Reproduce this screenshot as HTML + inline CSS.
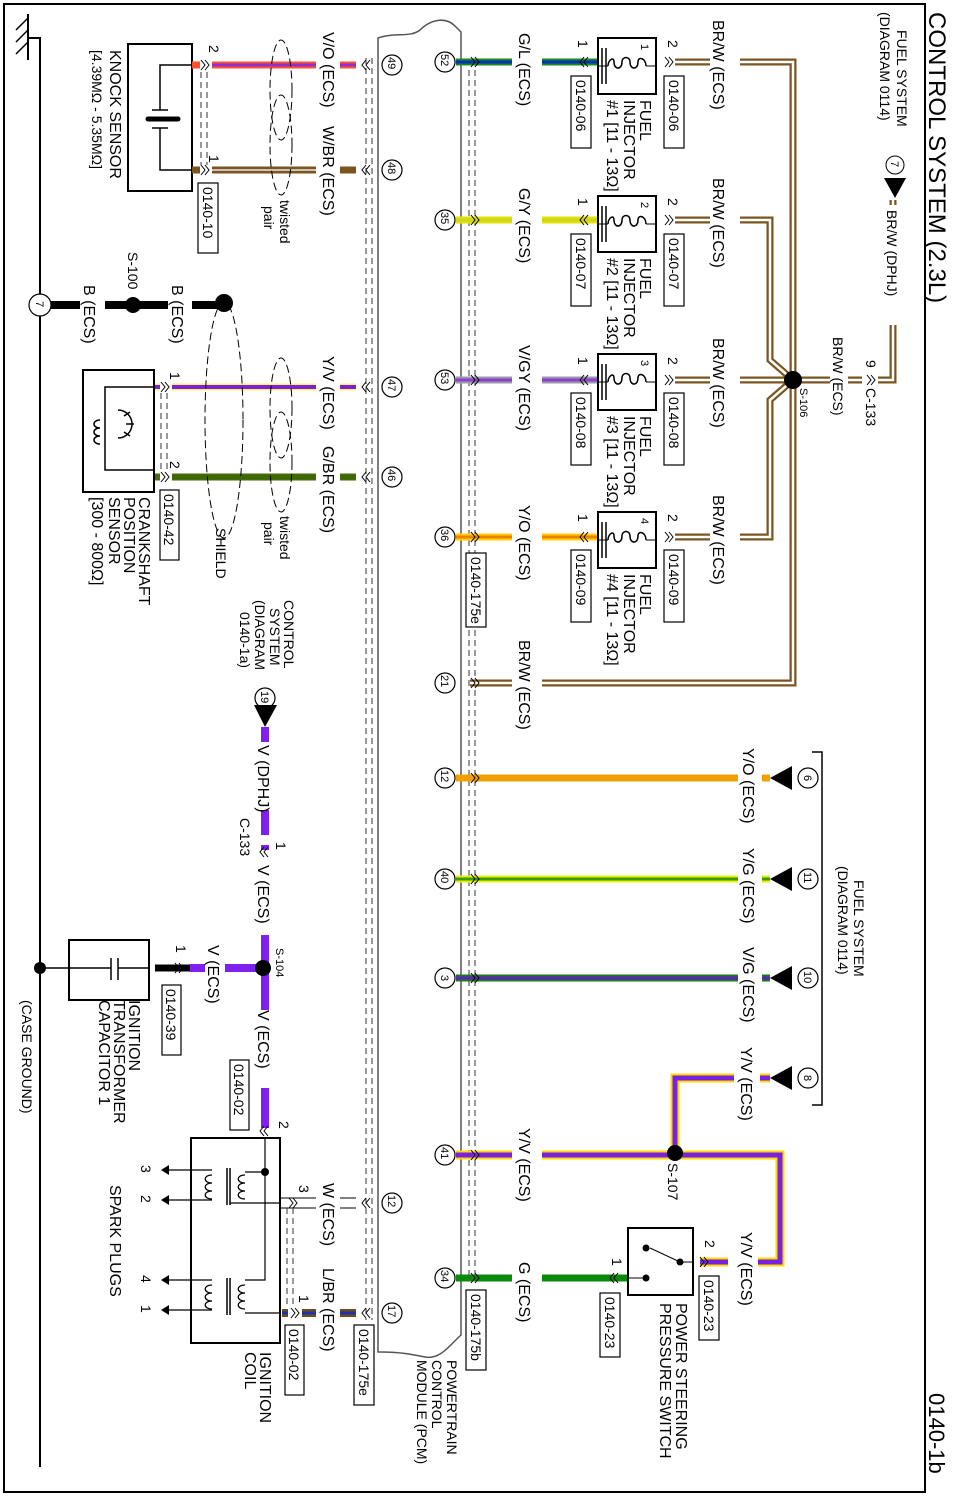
<!DOCTYPE html>
<html><head><meta charset="utf-8"><style>
html,body{margin:0;padding:0;background:#fff}
svg{display:block}
text{font-family:"Liberation Sans",sans-serif;fill:#000}
.s{font-size:14px}.m{font-size:16px}.t{font-size:11px}
</style></head><body>
<svg width="958" height="1498" viewBox="0 0 958 1498" xmlns="http://www.w3.org/2000/svg">
<defs>
<g id="chR"><path d="M-3,-5 L1,0 L-3,5 M1,-5 L5,0 L1,5" fill="none" stroke="#000" stroke-width="1"/></g>
<g id="chL"><path d="M3,-5 L-1,0 L3,5 M-1,-5 L-5,0 L-1,5" fill="none" stroke="#000" stroke-width="1"/></g>
<g id="inj"><rect x="0" y="0" width="58" height="56" fill="#fff" stroke="#000" stroke-width="2"/>
<path d="M58,28 L48,28 M10,28 L0,28" stroke="#000" fill="none"/>
<path d="M48,28 C48,20 40,18 40,24 C40,32 32,32 32,24 C32,18 24,18 24,24 C24,32 16,32 16,24 C16,18 10,22 10,28" fill="none" stroke="#000" stroke-width="1.5"/>
<path d="M8,10 V46 M4,10 V46" stroke="#000" stroke-width="1.5"/></g>
</defs>
<rect x="4" y="4" width="921" height="1488" fill="none" stroke="#000" stroke-width="2"/>
<text class="m" style="font-size:24px" transform="translate(929 12) rotate(90)">CONTROL SYSTEM (2.3L)</text>
<text class="m" style="font-size:22px" transform="translate(929 1393) rotate(90)">0140-1b</text>
<path d="M28,14 V60 M28,38 H40 V1467" stroke="#000" stroke-width="2" fill="none"/>
<path d="M16,30 L28,18 M16,42 L28,30 M16,54 L28,42" stroke="#000" stroke-width="1.5"/>
<text class="s" transform="translate(22 1000) rotate(90)">(CASE GROUND)</text>
<circle cx="40" cy="968" r="6"/>
<path d="M378,38 C395,32 410,38 420,30 C430,20 445,16 455,26 L461,32 V1335 C450,1345 440,1360 425,1357 C410,1354 400,1352 378,1352 Z" fill="none" stroke="#555" stroke-width="1.5"/>
<path d="M366,58 V1320 M372,58 V1320" stroke="#333" stroke-dasharray="6,4"/>
<path d="M469,70 V1275 M475,70 V1275" stroke="#333" stroke-dasharray="6,4"/>
<text class="s" transform="translate(447 1360) rotate(90)">POWERTRAIN</text>
<text class="s" transform="translate(432 1360) rotate(90)">CONTROL</text>
<text class="s" transform="translate(417 1360) rotate(90)">MODULE (PCM)</text>
<g fill="#fff" stroke="#000" stroke-width="1.2">
<circle cx="445" cy="62" r="10"/><circle cx="445" cy="220" r="10"/><circle cx="445" cy="380" r="10"/><circle cx="445" cy="537" r="10"/><circle cx="445" cy="683" r="10"/><circle cx="445" cy="778" r="10"/><circle cx="445" cy="879" r="10"/><circle cx="445" cy="978" r="10"/><circle cx="445" cy="1155" r="10"/><circle cx="445" cy="1278" r="10"/>
<circle cx="392" cy="65" r="10"/><circle cx="392" cy="170" r="10"/><circle cx="392" cy="387" r="10"/><circle cx="392" cy="477" r="10"/><circle cx="392" cy="1203" r="10"/><circle cx="392" cy="1313" r="10"/>
</g>
<g class="t">
<text transform="translate(441 54) rotate(90)">52</text><text transform="translate(441 212) rotate(90)">35</text><text transform="translate(441 372) rotate(90)">53</text><text transform="translate(441 529) rotate(90)">36</text><text transform="translate(441 675) rotate(90)">21</text><text transform="translate(441 770) rotate(90)">12</text><text transform="translate(441 871) rotate(90)">40</text><text transform="translate(441 975) rotate(90)">3</text><text transform="translate(441 1147) rotate(90)">41</text><text transform="translate(441 1270) rotate(90)">34</text>
<text transform="translate(388 57) rotate(90)">49</text><text transform="translate(388 162) rotate(90)">48</text><text transform="translate(388 379) rotate(90)">47</text><text transform="translate(388 469) rotate(90)">46</text><text transform="translate(388 1195) rotate(90)">12</text><text transform="translate(388 1305) rotate(90)">17</text>
</g>
<g stroke-width="7">
<path d="M456,62 H512 M542,62 H597" stroke="#1a8a1a"/>
<path d="M456,220 H512 M542,220 H597" stroke="#e8e000"/>
<path d="M456,380 H512 M542,380 H597" stroke="#9a9aa8"/>
<path d="M456,537 H512 M542,537 H597" stroke="#ffd000"/>
<path d="M456,778 H738 M762,778 H770" stroke="#f0a000"/>
<path d="M456,879 H738 M762,879 H770" stroke="#e8f000"/>
<path d="M456,978 H738 M762,978 H770" stroke="#1a7a1a"/>
<path d="M456,1278 H512 M542,1278 H628" stroke="#0a8a0a"/>
</g>
<g stroke-width="3">
<path d="M456,62 H512 M542,62 H597" stroke="#0030c0"/>
<path d="M456,220 H512 M542,220 H597" stroke="#c8d820"/>
<path d="M456,380 H512 M542,380 H597" stroke="#9040d0"/>
<path d="M456,537 H512 M542,537 H597" stroke="#f08000"/>
<path d="M456,879 H738 M762,879 H770" stroke="#3a9a10"/>
<path d="M456,978 H738 M762,978 H770" stroke="#6020c0"/>
</g>
<path d="M456,1155 H512 M542,1155 H780 V1262 H758 M728,1262 H700 M675,1155 V1078 H734 M760,1078 H770" fill="none" stroke="#ffd800" stroke-width="9"/>
<path d="M456,1155 H512 M542,1155 H780 V1262 H758 M728,1262 H700 M675,1155 V1078 H734 M760,1078 H770" fill="none" stroke="#7a20e0" stroke-width="5"/>
<circle cx="675" cy="1153" r="8"/>
<text class="s" transform="translate(668 1163) rotate(90)">S-107</text>
<g fill="none">
<path d="M675,62 H710 M740,62 H793 V683 H542 M512,683 H470 M675,220 H710 M740,220 H770 V360 L793,380 M675,380 H710 M740,380 H793 M675,537 H710 M740,537 H770 V400 L793,380 M793,380 H830 M848,380 H862 M878,380 H893 V325 M893,205 V200" stroke="#7a5520" stroke-width="7"/>
<path d="M675,62 H710 M740,62 H793 V683 H542 M512,683 H470 M675,220 H710 M740,220 H770 V360 L793,380 M675,380 H710 M740,380 H793 M675,537 H710 M740,537 H770 V400 L793,380 M793,380 H830 M848,380 H862 M878,380 H893 V325 M893,205 V200" stroke="#fff" stroke-width="2.5"/>
</g>
<circle cx="793" cy="380" r="9"/>
<text class="t" transform="translate(800 388) rotate(90)">S-106</text>
<text class="s" transform="translate(866 360) rotate(90)">9</text>
<use href="#chR" x="870" y="380"/>
<text class="s" transform="translate(866 388) rotate(90)">C-133</text>
<text class="s" transform="translate(833 337) rotate(90)">BR/W (ECS)</text>
<text class="s" transform="translate(887 210) rotate(90)">BR/W (DPHJ)</text>
<path d="M884,178 L906,178 L895,198 Z"/>
<circle cx="895" cy="165" r="9" fill="#fff" stroke="#000"/>
<text class="t" transform="translate(891 161) rotate(90)">7</text>
<text class="s" transform="translate(897 30) rotate(90)">FUEL SYSTEM</text>
<text class="s" transform="translate(880 12) rotate(90)">(DIAGRAM 0114)</text>
<text class="m" transform="translate(519 640) rotate(90)">BR/W (ECS)</text>
<use href="#inj" x="598" y="38"/><use href="#inj" x="598" y="196"/><use href="#inj" x="598" y="354"/><use href="#inj" x="598" y="512"/>
<g class="t"><text transform="translate(641 44) rotate(90)">1</text><text transform="translate(641 202) rotate(90)">2</text><text transform="translate(641 360) rotate(90)">3</text><text transform="translate(641 518) rotate(90)">4</text></g>
<g>
<use href="#chR" x="668" y="62"/><use href="#chL" x="585" y="62"/>
<use href="#chR" x="668" y="220"/><use href="#chL" x="585" y="220"/>
<use href="#chR" x="668" y="380"/><use href="#chL" x="585" y="380"/>
<use href="#chR" x="668" y="537"/><use href="#chL" x="585" y="537"/>
</g>
<g class="s">
<text transform="translate(668 40) rotate(90)">2</text><text transform="translate(578 40) rotate(90)">1</text>
<text transform="translate(668 198) rotate(90)">2</text><text transform="translate(578 198) rotate(90)">1</text>
<text transform="translate(668 357) rotate(90)">2</text><text transform="translate(578 357) rotate(90)">1</text>
<text transform="translate(668 514) rotate(90)">2</text><text transform="translate(578 514) rotate(90)">1</text>
</g>
<g fill="#fff" stroke="#000" stroke-width="1.2">
<rect x="664" y="76" width="20" height="72"/><rect x="571" y="76" width="20" height="72"/>
<rect x="664" y="234" width="20" height="72"/><rect x="571" y="234" width="20" height="72"/>
<rect x="664" y="393" width="20" height="72"/><rect x="571" y="393" width="20" height="72"/>
<rect x="664" y="550" width="20" height="72"/><rect x="571" y="550" width="20" height="72"/>
</g>
<g class="s">
<text transform="translate(669 80) rotate(90)">0140-06</text><text transform="translate(576 80) rotate(90)">0140-06</text>
<text transform="translate(669 238) rotate(90)">0140-07</text><text transform="translate(576 238) rotate(90)">0140-07</text>
<text transform="translate(669 397) rotate(90)">0140-08</text><text transform="translate(576 397) rotate(90)">0140-08</text>
<text transform="translate(669 554) rotate(90)">0140-09</text><text transform="translate(576 554) rotate(90)">0140-09</text>
</g>
<g class="m">
<text transform="translate(640 100) rotate(90)">FUEL</text><text transform="translate(624 100) rotate(90)">INJECTOR</text><text transform="translate(607 100) rotate(90)">#1 [11 - 13Ω]</text>
<text transform="translate(640 258) rotate(90)">FUEL</text><text transform="translate(624 258) rotate(90)">INJECTOR</text><text transform="translate(607 258) rotate(90)">#2 [11 - 13Ω]</text>
<text transform="translate(640 416) rotate(90)">FUEL</text><text transform="translate(624 416) rotate(90)">INJECTOR</text><text transform="translate(607 416) rotate(90)">#3 [11 - 13Ω]</text>
<text transform="translate(640 574) rotate(90)">FUEL</text><text transform="translate(624 574) rotate(90)">INJECTOR</text><text transform="translate(607 574) rotate(90)">#4 [11 - 13Ω]</text>
</g>
<g class="m">
<text transform="translate(713 20) rotate(90)">BR/W (ECS)</text><text transform="translate(713 178) rotate(90)">BR/W (ECS)</text><text transform="translate(713 338) rotate(90)">BR/W (ECS)</text><text transform="translate(713 495) rotate(90)">BR/W (ECS)</text>
<text transform="translate(519 33) rotate(90)">G/L (ECS)</text><text transform="translate(519 188) rotate(90)">G/Y (ECS)</text><text transform="translate(519 345) rotate(90)">V/GY (ECS)</text><text transform="translate(519 505) rotate(90)">Y/O (ECS)</text>
<text transform="translate(519 1128) rotate(90)">Y/V (ECS)</text><text transform="translate(519 1262) rotate(90)">G (ECS)</text>
<text transform="translate(743 748) rotate(90)">Y/O (ECS)</text><text transform="translate(743 848) rotate(90)">Y/G (ECS)</text><text transform="translate(743 947) rotate(90)">V/G (ECS)</text><text transform="translate(741 1047) rotate(90)">Y/V (ECS)</text>
<text transform="translate(741 1232) rotate(90)">Y/V (ECS)</text>
</g>
<g><use href="#chR" x="474" y="62"/><use href="#chR" x="474" y="220"/><use href="#chR" x="474" y="380"/><use href="#chR" x="474" y="537"/><use href="#chR" x="474" y="683"/><use href="#chR" x="474" y="778"/><use href="#chR" x="474" y="879"/><use href="#chR" x="474" y="978"/><use href="#chR" x="474" y="1155"/><use href="#chR" x="474" y="1278"/>
<use href="#chL" x="367" y="65"/><use href="#chL" x="367" y="170"/><use href="#chL" x="367" y="387"/><use href="#chL" x="367" y="477"/><use href="#chL" x="367" y="1203"/><use href="#chL" x="367" y="1313"/></g>
<g fill="#fff" stroke="#000" stroke-width="1.2"><rect x="466" y="553" width="20" height="74"/><rect x="466" y="1290" width="20" height="80"/><rect x="354" y="1325" width="20" height="80"/></g>
<g class="s"><text transform="translate(471 557) rotate(90)">0140-175e</text><text transform="translate(471 1294) rotate(90)">0140-175b</text><text transform="translate(359 1329) rotate(90)">0140-175e</text></g>
<g><path d="M770,778 L792,766 L792,790 Z"/><path d="M770,879 L792,867 L792,891 Z"/><path d="M770,978 L792,966 L792,990 Z"/><path d="M770,1078 L792,1066 L792,1090 Z"/></g>
<g fill="#fff" stroke="#000" stroke-width="1.2"><circle cx="808" cy="778" r="10"/><circle cx="808" cy="879" r="10"/><circle cx="808" cy="978" r="10"/><circle cx="808" cy="1078" r="10"/></g>
<g class="t"><text transform="translate(804 775) rotate(90)">6</text><text transform="translate(804 872) rotate(90)">11</text><text transform="translate(804 971) rotate(90)">10</text><text transform="translate(804 1075) rotate(90)">8</text></g>
<path d="M812,752 H822 V1105 H812" fill="none" stroke="#000" stroke-width="1.5"/>
<text class="s" transform="translate(854 880) rotate(90)">FUEL SYSTEM</text>
<text class="s" transform="translate(838 866) rotate(90)">(DIAGRAM 0114)</text>
<rect x="628" y="1228" width="65" height="67" fill="#fff" stroke="#000" stroke-width="2"/>
<path d="M693,1262 H680 L650,1248 M628,1278 H646" stroke="#000" fill="none"/>
<circle cx="680" cy="1262" r="3.5"/><circle cx="646" cy="1248" r="3.5"/><circle cx="646" cy="1278" r="3.5"/>
<use href="#chR" x="703" y="1262"/><use href="#chL" x="615" y="1278"/>
<text class="s" transform="translate(705 1240) rotate(90)">2</text><text class="s" transform="translate(612 1258) rotate(90)">1</text>
<g fill="#fff" stroke="#000" stroke-width="1.2"><rect x="699" y="1276" width="20" height="64"/><rect x="600" y="1293" width="20" height="64"/></g>
<g class="s"><text transform="translate(704 1280) rotate(90)">0140-23</text><text transform="translate(605 1297) rotate(90)">0140-23</text></g>
<text class="m" transform="translate(676 1303) rotate(90)">POWER STEERING</text>
<text class="m" transform="translate(660 1303) rotate(90)">PRESSURE SWITCH</text>
<rect x="128" y="44" width="64" height="147" fill="#fff" stroke="#000" stroke-width="2"/>
<path d="M192,65 H160 V110 M160,128 V170 H192 M152,110 H168 M152,128 H168" stroke="#000" fill="none" stroke-width="1.5"/>
<path d="M148,119 H178" stroke="#000" stroke-width="5" stroke-linecap="round"/>
<text class="m" transform="translate(110 50) rotate(90)">KNOCK SENSOR</text>
<text class="s" transform="translate(92 50) rotate(90)">[4.39MΩ - 5.35MΩ]</text>
<g stroke-width="7"><path d="M192,65 H200 M212,65 H316 M340,65 H356" stroke="#ff5030"/><path d="M192,170 H200 M212,170 H316 M340,170 H356" stroke="#7a5520"/>
<path d="M155,387 H160 M172,387 H316 M340,387 H356" stroke="#fff060"/><path d="M155,477 H160 M172,477 H316 M340,477 H356" stroke="#4a6a10"/></g>
<g stroke-width="3"><path d="M212,65 H316 M340,65 H356" stroke="#9030d0"/><path d="M212,170 H316" stroke="#e8e8e8" stroke-width="1.5"/>
<path d="M155,387 H160 M172,387 H316 M340,387 H356" stroke="#7a20e0" stroke-width="4"/><path d="M172,477 H316 M340,477 H356" stroke="#3a6a00" stroke-width="4"/></g>
<use href="#chR" x="204" y="65"/><use href="#chR" x="204" y="170"/><use href="#chR" x="164" y="387"/><use href="#chR" x="164" y="477"/>
<text class="s" transform="translate(209 45) rotate(90)">2</text><text class="s" transform="translate(209 155) rotate(90)">1</text>
<text class="s" transform="translate(170 372) rotate(90)">1</text><text class="s" transform="translate(170 461) rotate(90)">2</text>
<path d="M201,72 V165 M207,72 V165 M161,393 V472 M167,393 V472" stroke="#333" stroke-dasharray="6,4"/>
<rect x="198" y="183" width="20" height="70" fill="#fff" stroke="#000" stroke-width="1.2"/>
<text class="s" transform="translate(203 187) rotate(90)">0140-10</text>
<g fill="none" stroke="#000" stroke-dasharray="8,4"><ellipse cx="281" cy="90" rx="11" ry="50"/><ellipse cx="281" cy="145" rx="11" ry="50"/><ellipse cx="281" cy="408" rx="11" ry="50"/><ellipse cx="281" cy="462" rx="11" ry="50"/><ellipse cx="224" cy="420" rx="19" ry="118"/></g>
<text class="s" transform="translate(280 200) rotate(90)">twisted</text><text class="s" transform="translate(264 206) rotate(90)">pair</text>
<text class="s" transform="translate(280 516) rotate(90)">twisted</text><text class="s" transform="translate(264 522) rotate(90)">pair</text>
<text class="s" transform="translate(216 528) rotate(90)">SHIELD</text>
<g class="m"><text transform="translate(323 32) rotate(90)">V/O (ECS)</text><text transform="translate(323 126) rotate(90)">W/BR (ECS)</text><text transform="translate(323 356) rotate(90)">Y/V (ECS)</text><text transform="translate(323 446) rotate(90)">G/BR (ECS)</text>
<text transform="translate(323 1183) rotate(90)">W (ECS)</text><text transform="translate(323 1268) rotate(90)">L/BR (ECS)</text></g>
<path d="M50,305 H80 M105,305 H168 M192,305 H225" stroke="#000" stroke-width="8"/>
<circle cx="40" cy="305" r="11" fill="#fff" stroke="#000" stroke-width="1.2"/><text class="t" transform="translate(36 301) rotate(90)">7</text>
<circle cx="133" cy="305" r="8"/><circle cx="224" cy="303" r="9"/>
<text class="m" transform="translate(84 285) rotate(90)">B (ECS)</text><text class="m" transform="translate(172 285) rotate(90)">B (ECS)</text>
<text class="s" transform="translate(128 252) rotate(90)">S-100</text>
<rect x="83" y="370" width="71" height="122" fill="#fff" stroke="#000" stroke-width="2"/>
<path d="M154,387 H105 V470 H154" fill="none" stroke="#000" stroke-width="1.5"/>
<path d="M100,420 C92,420 92,428 100,428 C92,428 92,436 100,436 C92,436 92,444 100,444" fill="none" stroke="#000" stroke-width="1.5"/>
<path d="M118,410 A14,14 0 0 1 118,438 M124,416 l6,-4 M124,432 l6,4 M126,424 h8" fill="none" stroke="#000" stroke-width="1.5"/>
<rect x="160" y="490" width="19" height="70" fill="#fff" stroke="#000" stroke-width="1.2"/>
<text class="s" transform="translate(164 494) rotate(90)">0140-42</text>
<g class="m"><text transform="translate(139 497) rotate(90)">CRANKSHAFT</text><text transform="translate(124 497) rotate(90)">POSITION</text><text transform="translate(109 497) rotate(90)">SENSOR</text><text transform="translate(92 497) rotate(90)">[300 - 800Ω]</text></g>
<g class="s"><text transform="translate(284 600) rotate(90)">CONTROL</text><text transform="translate(270 608) rotate(90)">SYSTEM</text><text transform="translate(255 600) rotate(90)">(DIAGRAM</text><text transform="translate(240 612) rotate(90)">0140-1a)</text></g>
<circle cx="265" cy="698" r="10" fill="#fff" stroke="#000" stroke-width="1.2"/><text class="t" transform="translate(261 691) rotate(90)">19</text>
<path d="M254,705 L277,705 L265,727 Z"/>
<path d="M265,727 V742 M265,810 V835 M265,845 V850 M265,935 V1010 M265,1088 V1128 M263,968 H225 M205,968 H190" stroke="#8020f0" stroke-width="8" fill="none"/>
<path d="M190,968 H155" stroke="#000" stroke-width="7"/>
<circle cx="263" cy="968" r="8"/>
<text class="m" transform="translate(258 745) rotate(90)">V (DPHJ)</text>
<text class="m" transform="translate(258 865) rotate(90)">V (ECS)</text>
<text class="m" transform="translate(258 1010) rotate(90)">V (ECS)</text>
<text class="m" transform="translate(208 945) rotate(90)">V (ECS)</text>
<use href="#chL" x="265" y="852"/><text class="s" transform="translate(276 842) rotate(90)">1</text>
<text class="s" transform="translate(240 818) rotate(90)">C-133</text>
<text class="t" transform="translate(276 948) rotate(90)">S-104</text>
<use href="#chR" x="178" y="968"/><text class="s" transform="translate(176 945) rotate(90)">1</text>
<rect x="162" y="985" width="19" height="70" fill="#fff" stroke="#000" stroke-width="1.2"/>
<text class="s" transform="translate(166 989) rotate(90)">0140-39</text>
<rect x="69" y="940" width="80" height="60" fill="#fff" stroke="#000" stroke-width="2"/>
<path d="M40,968 H111 M111,958 V980 M118,958 V980 M118,968 H149" stroke="#000" stroke-width="1.5" fill="none"/>
<g class="m"><text transform="translate(129 1000) rotate(90)">IGNITION</text><text transform="translate(114 1000) rotate(90)">TRANSFORMER</text><text transform="translate(99 1000) rotate(90)">CAPACITOR 1</text></g>
<rect x="230" y="1060" width="19" height="70" fill="#fff" stroke="#000" stroke-width="1.2"/>
<text class="s" transform="translate(234 1064) rotate(90)">0140-02</text>
<use href="#chL" x="265" y="1131"/><text class="s" transform="translate(279 1121) rotate(90)">2</text>
<rect x="191" y="1138" width="89" height="205" fill="#fff" stroke="#000" stroke-width="2"/>
<path d="M265,1138 V1280 H245 M265,1172 H245 M280,1203 H230 M280,1313 H245" fill="none" stroke="#000" stroke-width="1.2"/>
<circle cx="265" cy="1172" r="4"/>
<path d="M230,1168 V1205 M227,1168 V1205 M230,1278 V1315 M227,1278 V1315" stroke="#000" stroke-width="1.5"/>
<path d="M245,1175 C236,1175 236,1183 245,1183 C236,1183 236,1191 245,1191 C236,1191 236,1199 245,1199 M245,1285 C236,1285 236,1293 245,1293 C236,1293 236,1301 245,1301 C236,1301 236,1309 245,1309 M212,1175 C203,1175 203,1183 212,1183 C203,1183 203,1191 212,1191 C203,1191 203,1199 212,1199 M212,1285 C203,1285 203,1293 212,1293 C203,1293 203,1301 212,1301 C203,1301 203,1309 212,1309" fill="none" stroke="#000" stroke-width="1.3"/>
<path d="M212,1170 H165 M212,1200 H165 M212,1280 H165 M212,1310 H165" stroke="#000" stroke-width="1.3"/>
<path d="M161,1170 l8,-5 v10 Z M161,1200 l8,-5 v10 Z M161,1280 l8,-5 v10 Z M161,1310 l8,-5 v10 Z"/>
<g class="s"><text transform="translate(141 1165) rotate(90)">3</text><text transform="translate(141 1195) rotate(90)">2</text><text transform="translate(141 1275) rotate(90)">4</text><text transform="translate(141 1305) rotate(90)">1</text></g>
<text class="m" transform="translate(110 1185) rotate(90)">SPARK PLUGS</text>
<path d="M280,1198 H316 M340,1198 H356 M280,1208 H316 M340,1208 H356" stroke="#000" stroke-width="1"/>
<use href="#chR" x="292" y="1203"/><text class="s" transform="translate(299 1185) rotate(90)">3</text>
<path d="M282,1313 H288 M302,1313 H316 M340,1313 H356" stroke="#6a5020" stroke-width="8"/>
<path d="M282,1313 H288 M302,1313 H316 M340,1313 H356" stroke="#2030b0" stroke-width="3"/>
<use href="#chR" x="294" y="1313"/><text class="s" transform="translate(299 1295) rotate(90)">1</text>
<path d="M287,1208 V1308 M293,1208 V1308" stroke="#333" stroke-dasharray="6,4"/>
<rect x="285" y="1325" width="19" height="70" fill="#fff" stroke="#000" stroke-width="1.2"/>
<text class="s" transform="translate(289 1329) rotate(90)">0140-02</text>
<g class="m"><text transform="translate(260 1352) rotate(90)">IGNITION</text><text transform="translate(245 1352) rotate(90)">COIL</text></g>
</svg>
</body></html>
